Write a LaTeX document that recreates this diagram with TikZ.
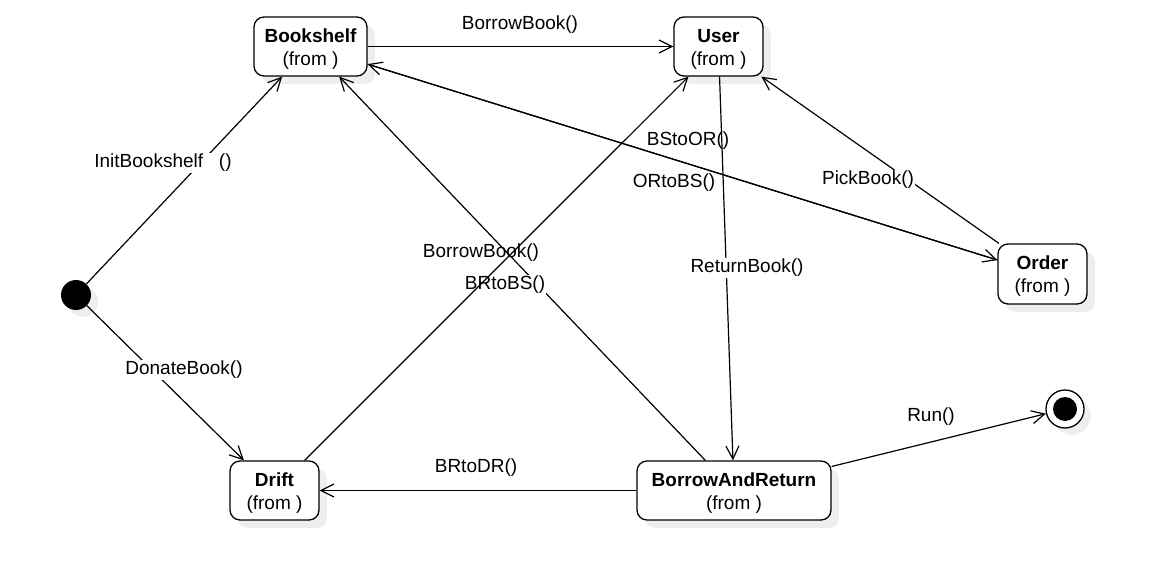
\documentclass[tikz,border=0pt]{standalone}
\usepackage{fontspec}
\setmainfont{Liberation Sans}
\usetikzlibrary{arrows.meta,shadows}
\definecolor{shadowgray}{HTML}{EEEEEE}
\newcommand{\topstrut}{\rule{0pt}{18pt}}
\tikzset{
  statebox/.style={draw, line width=1.3pt, rounded corners=10pt, fill=white,
    align=center, inner sep=0pt, minimum height=59pt,
    font=\fontsize{19}{23}\selectfont,
    drop shadow={shadow xshift=8pt, shadow yshift=-8pt, fill=shadowgray, opacity=1}},
  trans/.style={line width=1.2pt, -{Straight Barb[length=13pt,width=13pt,line width=1.2pt]}},
  lbl/.style={font=\fontsize{19}{23}\selectfont, inner sep=1pt},
  lblw/.style={lbl, fill=white},
}
\begin{document}
\begin{tikzpicture}[x=1pt,y=-1pt]
\useasboundingbox (0,0) rectangle (1149,580);
% nodes
\node[statebox, minimum width=113pt] (bs) at (310.5,46.5) {\topstrut\textbf{Bookshelf}\\(from )};
\node[statebox, minimum width=89pt] (user) at (718.5,46.5) {\topstrut\textbf{User}\\(from )};
\node[statebox, minimum width=89pt, minimum height=60pt] (order) at (1042.5,274) {\topstrut\textbf{Order}\\(from )};
\node[statebox, minimum width=89pt] (drift) at (274.5,490.5) {\topstrut\textbf{Drift}\\(from )};
\node[statebox, minimum width=194pt] (bar) at (734,490.5) {\topstrut\textbf{BorrowAndReturn}\\(from )};
\node[circle, fill=black, minimum size=30pt, inner sep=0pt,
  drop shadow={shadow xshift=7pt, shadow yshift=-7pt, fill=shadowgray, opacity=1}] (init) at (76,295) {};
\node[circle, draw, line width=1.3pt, fill=white, minimum size=38pt, inner sep=0pt,
  drop shadow={shadow xshift=7pt, shadow yshift=-7pt, fill=shadowgray, opacity=1}] (final) at (1065,409) {};
\node[circle, fill=black, minimum size=24pt, inner sep=0pt] (finalin) at (final) {};

% connectors
\draw[trans] (bs) -- (user);
\node[lbl] (l1) at (520,25) {BorrowBook()};

\draw[trans] (init) -- (bs);
\node[lblw] (l2) at (163,163) {InitBookshelf\ \ \ ()};

\draw[trans] (init) -- (drift);
\node[lblw] (l3) at (184,370) {DonateBook()};

\draw[trans] (bar) -- (bs);
\node[lblw] (l5) at (505,285) {BRtoBS()};

\draw[trans] (drift) -- (user);
\node[lbl] (l4) at (481,253) {BorrowBook()};

\draw[trans] (user) -- (bar);
\node[lblw] (l6) at (747,268) {ReturnBook()};
\node[lblw] (l8) at (674,183) {ORtoBS()};

\draw[trans] (bs) -- (order);
\draw[trans] (order) -- (bs);
\node[lbl] (l7) at (688,141) {BStoOR()};

\draw[trans] (order) -- (user);
\node[lblw] (l9) at (868,180) {PickBook()};

\draw[trans] (bar) -- (drift);
\node[lbl] (l10) at (476,468) {BRtoDR()};

\draw[trans] (bar) -- (final);
\node[lbl] (l11) at (931,417) {Run()};
\end{tikzpicture}
\end{document}
